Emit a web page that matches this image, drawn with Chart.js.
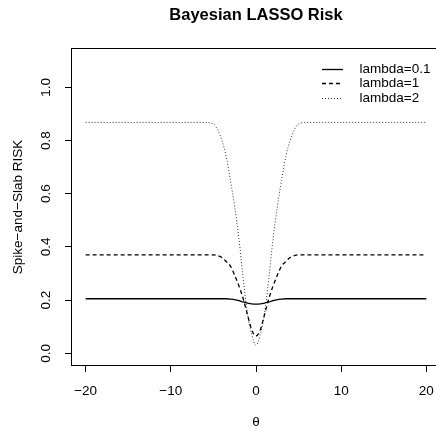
<!DOCTYPE html>
<html>
<head>
<meta charset="utf-8">
<script src="https://cdn.jsdelivr.net/npm/chart.js@4"></script>
<style>
html, body { margin: 0; padding: 0; background: #fff; overflow: hidden; }
canvas { display: block; }
</style>
</head>
<body>
<canvas id="riskChart" width="440" height="429"></canvas>
<script>
// theta grid and risk of each lambda
const theta = [-20, -10, -6, -5, -4.5, -4, -3.5, -3, -2.5, -2, -1.5, -1, -0.5, 0,
               0.5, 1, 1.5, 2, 2.5, 3, 3.5, 4, 4.5, 5, 6, 10, 20];
const riskLambda01 = [0.205, 0.205, 0.205, 0.205, 0.205, 0.205, 0.205, 0.204, 0.202, 0.198, 0.193, 0.189, 0.186, 0.185,
                      0.186, 0.189, 0.193, 0.198, 0.202, 0.204, 0.205, 0.205, 0.205, 0.205, 0.205, 0.205, 0.205];
const riskLambda1 = [0.37, 0.37, 0.37, 0.37, 0.367, 0.36, 0.345, 0.328, 0.293, 0.253, 0.205, 0.145, 0.088, 0.065,
                     0.088, 0.145, 0.205, 0.253, 0.293, 0.328, 0.345, 0.36, 0.367, 0.37, 0.37, 0.37, 0.37];
const riskLambda2 = [0.868, 0.868, 0.868, 0.862, 0.84, 0.80, 0.74, 0.65, 0.55, 0.43, 0.28, 0.15, 0.07, 0.03,
                     0.07, 0.15, 0.28, 0.43, 0.55, 0.65, 0.74, 0.80, 0.84, 0.862, 0.868, 0.868, 0.868];
const seriesNames = ['lambda=0.1', 'lambda=1', 'lambda=2'];
const xTicks = [-20, -10, 0, 10, 20];
const yTicks = [0, 0.2, 0.4, 0.6, 0.8, 1.0];

const FONT = 'Liberation Sans, Arial, Helvetica, sans-serif';
const FONT_SIZE = 13.5;

function points(values) {
    return theta.map(function (t, i) { return { x: t, y: values[i] }; });
}

// box round the plot region
const frame = {
    id: 'frame',
    afterDraw(chart) {
        const a = chart.chartArea;
        const ctx = chart.ctx;
        ctx.save();
        ctx.strokeStyle = '#000';
        ctx.lineWidth = 1;
        ctx.strokeRect(Math.round(a.left) - 0.5, Math.round(a.top) - 0.5,
                       Math.round(a.right - a.left) + 1, Math.round(a.bottom - a.top) + 1);
        ctx.restore();
    }
};

// legend without a box in the top right corner of the plot
const cornerLegend = {
    id: 'cornerLegend',
    afterDatasetsDraw(chart) {
        const a = chart.chartArea;
        const ctx = chart.ctx;
        ctx.save();
        ctx.font = FONT_SIZE + 'px ' + FONT;
        ctx.textBaseline = 'middle';
        ctx.textAlign = 'left';
        chart.data.datasets.forEach(function (ds, i) {
            const y = Math.round(a.top + 19.5 + i * 14.5) + 0.5;
            ctx.strokeStyle = ds.borderColor;
            ctx.lineWidth = ds.borderWidth;
            ctx.setLineDash(ds.borderDash || []);
            ctx.beginPath();
            ctx.moveTo(a.right - 118, y);
            ctx.lineTo(a.right - 97, y);
            ctx.stroke();
            ctx.setLineDash([]);
            ctx.fillStyle = '#000';
            ctx.fillText(ds.label, a.right - 80.5, y);
        });
        ctx.restore();
    }
};

// keep the plot region fixed, whatever the tick labels need
function noLabelPadding(s) {
    s.paddingLeft = 0;
    s.paddingRight = 0;
    s.paddingTop = 0;
    s.paddingBottom = 0;
}

new Chart(document.getElementById('riskChart'), {
    type: 'line',
    data: {
        datasets: [
            { label: seriesNames[0], data: points(riskLambda01), borderColor: '#000', borderWidth: 1.3 },
            { label: seriesNames[1], data: points(riskLambda1), borderColor: '#000', borderWidth: 1.3, borderDash: [4, 3] },
            { label: seriesNames[2], data: points(riskLambda2), borderColor: '#333', borderWidth: 1, borderDash: [1, 2] }
        ]
    },
    options: {
        responsive: false,
        animation: false,
        parsing: false,
        elements: {
            point: { radius: 0 },
            line: { cubicInterpolationMode: 'monotone', fill: false }
        },
        layout: { padding: { left: 0, right: 0, top: 0, bottom: 0 } },
        plugins: {
            legend: { display: false },
            tooltip: { enabled: false },
            title: {
                display: true,
                text: 'Bayesian LASSO Risk',
                fullSize: false,
                color: '#000',
                font: { family: FONT, size: 16.5, weight: 'bold', lineHeight: 1.2 },
                padding: { top: 5.1, bottom: 24.1 }
            }
        },
        scales: {
            x: {
                type: 'linear',
                min: -21.6,
                max: 21.6,
                afterBuildTicks: function (s) { s.ticks = xTicks.map(function (v) { return { value: v }; }); },
                afterFit: function (s) { s.height = 64; noLabelPadding(s); },
                border: { display: false },
                grid: { drawOnChartArea: false, drawTicks: true, tickLength: 7, color: '#000' },
                ticks: {
                    color: '#000',
                    font: { family: FONT, size: FONT_SIZE },
                    padding: 11,
                    maxRotation: 0,
                    callback: function (v) { return String(v).replace('-', '\u2212'); }
                },
                title: {
                    display: true,
                    text: '\u03b8',
                    color: '#000',
                    font: { family: FONT, size: FONT_SIZE, lineHeight: 1 },
                    padding: { top: 0, bottom: 0 }
                }
            },
            y: {
                type: 'linear',
                min: -0.044,
                max: 1.144,
                afterBuildTicks: function (s) { s.ticks = yTicks.map(function (v) { return { value: v }; }); },
                afterFit: function (s) { s.width = 72; noLabelPadding(s); },
                border: { display: false },
                grid: { drawOnChartArea: false, drawTicks: true, tickLength: 7, color: '#000' },
                ticks: {
                    color: '#000',
                    font: { family: FONT, size: FONT_SIZE },
                    padding: 9.5,
                    minRotation: 90,
                    maxRotation: 90,
                    crossAlign: 'center',
                    callback: function (v) { return v.toFixed(1); }
                },
                title: {
                    display: true,
                    text: 'Spike\u2212and\u2212Slab RISK',
                    color: '#000',
                    font: { family: FONT, size: FONT_SIZE, lineHeight: 1.2 },
                    padding: { top: 9.9, bottom: 0 }
                }
            }
        }
    },
    plugins: [frame, cornerLegend]
});
</script>
</body>
</html>
